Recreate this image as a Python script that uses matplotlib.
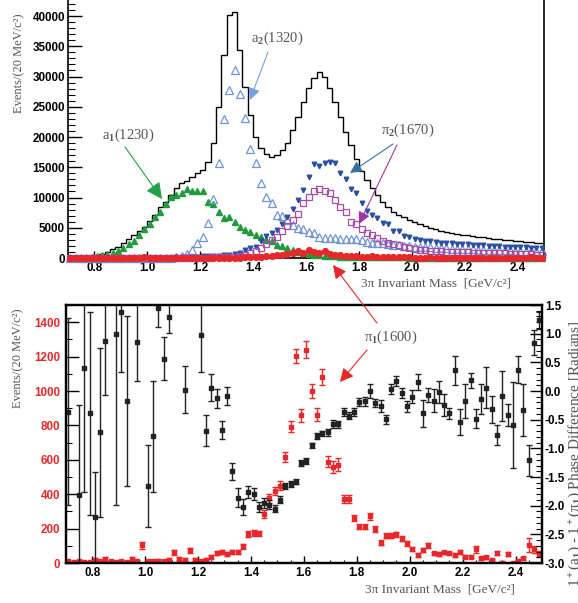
import numpy as np
import matplotlib
matplotlib.use('Agg')
import matplotlib.pyplot as plt
from matplotlib.patches import FancyArrowPatch
from matplotlib.ticker import MultipleLocator, FormatStrFormatter

W, H = 578, 603

# 3pi mass bins, 20 MeV wide
edges = np.linspace(0.70, 2.50, 91)
mass = (edges[:-1] + edges[1:]) / 2

# top panel: total intensity and wave intensities (events / 20 MeV)
total = [0, 0, 0, 40, 120, 330, 660, 1040, 1430, 1870,
         2420, 3090, 3800, 4460, 5180, 6170, 7100, 8370, 9310, 10410,
         11520, 12350, 12780, 13440, 14000, 14500, 15900, 18950, 24900, 33550,
         40200, 40700, 34400, 28200, 23600, 20050, 18130, 17190, 16740, 17020,
         17850, 19060, 21160, 23360, 25840, 28050, 29700, 30800, 29970, 28050,
         25840, 23360, 20880, 18680, 16300, 14430, 12890, 11520, 10410, 9310,
         8480, 7650, 7100, 6730, 6280, 6000, 5620, 5340, 5000, 4750,
         4500, 4300, 4150, 4000, 3880, 3750, 3620, 3500, 3400, 3300,
         3200, 3100, 3000, 2920, 2840, 2760, 2680, 2600, 2520, 2440]

a1_wave = [0, 0, 0, 30, 100, 300, 450, 700, 900, 1210,
           1600, 2310, 2860, 3800, 4740, 5620, 6720, 7600, 8930, 10030,
           10410, 10690, 11350, 11130, 11130, 11000, 9310, 9000, 7650, 6560,
           6830, 6000, 5070, 4630, 4240, 3800, 3420, 2980, 2860, 2150,
           1980, 1600, 1300, 1000, 800, 650, 550, 450, 400, 300,
           250, 220, 200, 180, 160, 150, 140, 130, 120, 110,
           100, 100, 90, 90, 80, 80, 80, 70, 70, 70,
           60, 60, 60, 60, 50, 50, 50, 50, 50, 50,
           40, 40, 40, 40, 40, 40, 40, 40, 40, 40]

a2_wave = [0, 0, 0, 0, 0, 0, 0, 0, 0, 0,
           0, 0, 0, 0, 0, 0, 0, 20, 40, 60,
           100, 250, 600, 1320, 2420, 3420, 5840, 9700, 15750, 22980,
           27770, 31070, 27100, 23090, 17970, 15650, 12450, 10030, 9040, 7100,
           7000, 6300, 5450, 5010, 4740, 4350, 4080, 3420, 3300, 3250,
           3250, 3200, 3200, 3150, 3100, 2980, 2700, 2500, 2450, 2400,
           2350, 2200, 2100, 2000, 1950, 1900, 1850, 1800, 1750, 1700,
           1650, 1600, 1550, 1500, 1480, 1450, 1420, 1400, 1380, 1350,
           1320, 1300, 1280, 1250, 1230, 1200, 1180, 1150, 1130, 1100]

pi2_f2_wave = [0, 0, 0, 0, 0, 0, 0, 0, 0, 0,
               0, 0, 0, 0, 0, 0, 0, 0, 50, 80,
               100, 120, 150, 170, 200, 250, 300, 350, 400, 450,
               550, 650, 800, 1300, 1600, 1900, 2860, 3640, 4080, 4630,
               5620, 6830, 8100, 9650, 11300, 13440, 15500, 15200, 15750, 15920,
               15650, 14000, 13000, 11350, 10800, 9140, 7820, 7100, 6560, 5840,
               5620, 4460, 4460, 3640, 3420, 3090, 2980, 2850, 2750, 2650,
               2550, 2450, 2400, 2350, 2300, 2250, 2200, 2150, 2100, 2050,
               2000, 1950, 1900, 1850, 1800, 1780, 1750, 1720, 1700, 1680]

pi2_rho_wave = [0, 0, 0, 0, 0, 0, 0, 0, 0, 0,
                0, 0, 0, 0, 0, 0, 0, 0, 0, 0,
                0, 0, 0, 0, 30, 50, 80, 100, 120, 150,
                180, 200, 300, 500, 800, 1200, 1700, 2300, 2900, 3500,
                4500, 5300, 6280, 7270, 9140, 10130, 11130, 11350, 11130, 10800,
                9590, 8480, 7550, 6000, 5570, 4740, 4080, 3800, 3360, 2860,
                2530, 2310, 2150, 1870, 1600, 1450, 1350, 1280, 1200, 1150,
                1100, 1050, 1000, 980, 950, 920, 900, 880, 850, 820,
                800, 780, 750, 720, 700, 670, 640, 600, 560, 520]

# pi1(1600) exotic wave intensity (both panels)
pi1_wave = [10, 4, 10, 4, 4, 19, 10, 25, 10, 5,
            12, 5, 25, 12, 102, 10, 10, 14, 10, 19,
            62, 25, 19, 73, 19, 10, 19, 33, 58, 66,
            52, 62, 62, 96, 168, 174, 172, 286, 376, 418,
            449, 617, 791, 1205, 860, 1240, 1000, 862, 1080, 590,
            559, 572, 371, 371, 260, 212, 212, 272, 200, 118,
            158, 158, 168, 141, 114, 79, 46, 75, 104, 56,
            52, 62, 56, 46, 64, 37, 37, 81, 27, 33,
            17, 56, 2, 52, 0, 12, 27, 104, 79, 52]

pi1_err = [8, 6, 8, 6, 6, 10, 8, 12, 8, 6,
           8, 6, 12, 8, 22, 8, 8, 10, 8, 10,
           14, 10, 10, 14, 10, 8, 10, 12, 12, 12,
           12, 12, 12, 14, 16, 16, 16, 22, 26, 24,
           26, 30, 32, 42, 38, 48, 40, 38, 48, 34,
           36, 36, 22, 22, 18, 16, 16, 20, 18, 14,
           14, 14, 14, 14, 14, 12, 10, 12, 14, 10,
           10, 10, 10, 10, 12, 10, 10, 20, 10, 10,
           8, 12, 8, 10, 8, 8, 10, 40, 20, 16]

nan = np.nan
# phase difference 1+(a1) - 1+(pi1), radians
phase = [-0.36, nan, -1.82, 0.40, -0.39, -2.20, -0.72, 0.88, nan, 0.99,
         1.38, -0.17, nan, 0.85, nan, -1.66, -0.79, 1.44, 0.56, 1.29,
         nan, nan, 0.02, nan, nan, 0.98, -0.69, 0.06, -0.13, -0.68,
         -0.09, -1.40, -1.86, -2.03, -1.76, -1.80, -2.02, -1.95, -1.98, -2.05,
         -1.90, -1.66, -1.62, -1.58, -1.25, -1.22, -0.95, -0.79, -0.74, -0.72,
         -0.58, -0.58, -0.36, -0.43, -0.36, -0.20, -0.18, 0.00, -0.21, -0.26,
         -0.49, 0.03, 0.17, -0.03, -0.27, -0.10, 0.155, -0.39, -0.075, -0.17,
         -0.02, -0.25, -0.39, 0.36, -0.54, -0.17, 0.19, -0.48, -0.14, 0.06,
         -0.32, -0.77, -0.09, -0.42, -0.59, 0.375, -0.33, -1.21, 0.84, 1.23]

phase_err = [1.63, nan, 1.57, 2.16, 1.77, 0.79, 1.47, 0.95, nan, 2.98,
             1.04, 1.48, nan, 0.68, nan, 0.71, 0.97, 0.33, 0.375, 0.27,
             nan, nan, 0.41, nan, nan, 0.65, 0.265, 0.23, 0.16, 0.15,
             0.16, 0.15, 0.16, 0.14, 0.10, 0.10, 0.09, 0.09, 0.08, 0.06,
             0.06, 0.05, 0.05, 0.05, 0.05, 0.05, 0.05, 0.05, 0.05, 0.06,
             0.07, 0.06, 0.07, 0.06, 0.07, 0.07, 0.08, 0.13, 0.07, 0.11,
             0.08, 0.087, 0.09, 0.087, 0.10, 0.115, 0.135, 0.23, 0.12, 0.20,
             0.19, 0.19, 0.10, 0.25, 0.22, 0.30, 0.13, 0.17, 0.26, 0.35,
             0.24, 0.17, 0.44, 0.19, 0.75, 0.24, 0.45, 0.27, 0.22, 0.14]

RED = '#e8272a'
GREY = '#555555'
SERIF = 'Liberation Serif'

plt.rcParams['font.family'] = 'Liberation Sans'
plt.rcParams['font.weight'] = 'bold'
plt.rcParams['font.size'] = 8.4
plt.rcParams['axes.unicode_minus'] = False
plt.rcParams['mathtext.fontset'] = 'custom'
plt.rcParams['mathtext.rm'] = SERIF
plt.rcParams['mathtext.it'] = SERIF + ':italic'
plt.rcParams['mathtext.bf'] = SERIF + ':bold'


def box(l, t, r, b):
    return [l / W, 1 - b / H, (r - l) / W, (b - t) / H]


def fpx(x, y):
    return (x / W, 1 - y / H)


fig = plt.figure(figsize=(W / 100, H / 100), dpi=100)
ax1 = fig.add_axes(box(67.7, 0, 544.3, 258))
ax2 = fig.add_axes(box(65.7, 305, 542, 563))
ax3 = ax2.twinx()

# ---- top panel
ax1.stairs(total, edges, color='black', lw=1.0, zorder=2)
ax1.plot(mass, a1_wave, '^', ms=4.0, color='#1f9a3c', clip_on=False, zorder=3)
ax1.plot(mass, a2_wave, '^', ms=5.5, mfc='none', mec='#6f93d6', mew=0.9,
         clip_on=False, zorder=3)
ax1.plot(mass, pi2_f2_wave, 'v', ms=3.3, color='#2b4fa3', clip_on=False, zorder=3)
ax1.plot(mass, pi2_rho_wave, 's', ms=4.5, mfc='none', mec='#a64ca6', mew=0.9,
         clip_on=False, zorder=3)
ax1.plot(mass, pi1_wave, 'o', ms=4.2, color=RED, clip_on=False, zorder=4)

ax1.set_xlim(0.70, 2.50)
ax1.set_ylim(0, 42650)
ax1.spines['top'].set_visible(False)
for s in ax1.spines.values():
    s.set_linewidth(1.2)
ax1.xaxis.set_major_locator(MultipleLocator(0.2))
ax1.xaxis.set_minor_locator(MultipleLocator(0.05))
ax1.xaxis.set_major_formatter(FormatStrFormatter('%.1f'))
ax1.yaxis.set_major_locator(MultipleLocator(5000))
ax1.yaxis.set_minor_locator(MultipleLocator(1000))
ax1.tick_params(axis='x', which='major', direction='in', length=5, width=1, pad=3)
ax1.tick_params(axis='x', which='minor', direction='in', length=2.5, width=0.8)
ax1.tick_params(axis='y', which='major', direction='in', length=10, width=1, pad=2)
ax1.tick_params(axis='y', which='minor', direction='in', length=5, width=0.8)

# ---- bottom panel
ax2.errorbar(mass, pi1_wave, yerr=pi1_err, fmt='s', ms=2.2, color=RED,
             ecolor=RED, elinewidth=1, capsize=2, capthick=1)
ax3.errorbar(mass, phase, yerr=phase_err, fmt='s', ms=2.2, color='#222222',
             ecolor='#222222', elinewidth=1, capsize=2, capthick=1)

ax2.set_xlim(0.70, 2.50)
ax2.set_ylim(0, 1500)
ax3.set_ylim(-3.0, 1.5)
for a in (ax2, ax3):
    for s in a.spines.values():
        s.set_linewidth(1.6)
ax2.xaxis.set_major_locator(MultipleLocator(0.2))
ax2.xaxis.set_minor_locator(MultipleLocator(0.05))
ax2.xaxis.set_major_formatter(FormatStrFormatter('%.1f'))
ax2.yaxis.set_major_locator(MultipleLocator(200))
ax2.yaxis.set_minor_locator(MultipleLocator(100))
ax3.yaxis.set_major_locator(MultipleLocator(0.5))
ax3.yaxis.set_minor_locator(MultipleLocator(0.1))
ax3.yaxis.set_major_formatter(FormatStrFormatter('%.1f'))
ax2.tick_params(axis='x', which='major', direction='in', length=5, width=1, pad=3)
ax2.tick_params(axis='x', which='minor', direction='in', length=2.5, width=0.8)
ax2.tick_params(axis='y', which='major', direction='in', length=9.5, width=1,
                pad=4, labelcolor=RED)
ax2.tick_params(axis='y', which='minor', direction='in', length=4.5, width=0.8)
ax3.tick_params(axis='y', which='major', direction='in', length=9, width=1, pad=2)
ax3.tick_params(axis='y', which='minor', direction='in', length=4.5, width=0.8)

# ---- axis titles
lab = dict(family=SERIF, weight='normal', color=GREY)
fig.text(*fpx(19, 63), 'Events/(20 MeV/c²)', rotation=90, ha='center',
         va='center', fontsize=9, **lab)
fig.text(*fpx(18, 358), 'Events/(20 MeV/c²)', rotation=90, ha='center',
         va='center', fontsize=9, **lab)
fig.text(*fpx(436, 283), '3π Invariant Mass  [GeV/c²]', ha='center',
         va='center', fontsize=9.5, **lab)
fig.text(*fpx(440, 590), '3π Invariant Mass  [GeV/c²]', ha='center',
         va='center', fontsize=9.5, **lab)
fig.text(*fpx(579, 454), r'1$^+$(a$_1$) - 1$^+$(π$_1$) Phase Difference [Radians]',
         rotation=90, rotation_mode='anchor', ha='center', va='baseline',
         fontsize=11, **lab)

# ---- wave labels and arrows
fig.text(*fpx(277, 38), r'a$_2$(1320)', ha='center', va='center', fontsize=10.5, **lab)
fig.text(*fpx(128, 135), r'a$_1$(1230)', ha='center', va='center', fontsize=10.5, **lab)
fig.text(*fpx(408, 130), r'π$_2$(1670)', ha='center', va='center', fontsize=10.5, **lab)
fig.text(*fpx(391, 337), r'π$_1$(1600)', ha='center', va='center', fontsize=10.5, **lab)

arrows = [((268, 52), (250, 100), '#7a9ee0', 8),
          ((125, 147), (162, 199), '#22a04a', 11),
          ((393, 144), (350, 173), '#3a6fa6', 8),
          ((397, 145), (359, 224), '#a334a3', 8),
          ((377, 323), (333, 265), RED, 9),
          ((367, 350), (340, 382), RED, 9)]
for start, end, col, ms in arrows:
    fig.add_artist(FancyArrowPatch(fpx(*start), fpx(*end), transform=fig.transFigure,
                                   arrowstyle='-|>,head_length=0.9,head_width=0.45',
                                   mutation_scale=ms, color=col, lw=0.8,
                                   shrinkA=0, shrinkB=0, zorder=5))

fig.savefig('out.png', dpi=100)
